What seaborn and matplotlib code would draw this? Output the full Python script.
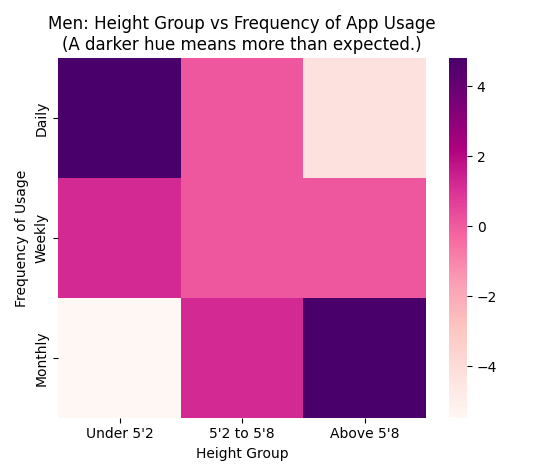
import matplotlib
matplotlib.use("Agg")
import matplotlib.pyplot as plt
import seaborn as sns
import pandas as pd

rows = ["Daily", "Weekly", "Monthly"]
cols = ["Under 5'2", "5'2 to 5'8", "Above 5'8"]
daily = [4.8, 0.1, -4.2]
weekly = [1.2, 0.1, 0.1]
monthly = [-5.47, 1.2, 4.8]

df = pd.DataFrame([daily, weekly, monthly], index=rows, columns=cols)
fig, ax = plt.subplots(figsize=(5.33, 4.76), dpi=100)
sns.heatmap(df, cmap="RdPu", ax=ax)
ax.set_title("Men: Height Group vs Frequency of App Usage\n(A darker hue means more than expected.)")
ax.set_xlabel("Height Group")
ax.set_ylabel("Frequency of Usage")
plt.tight_layout()
fig.savefig("out.png")
